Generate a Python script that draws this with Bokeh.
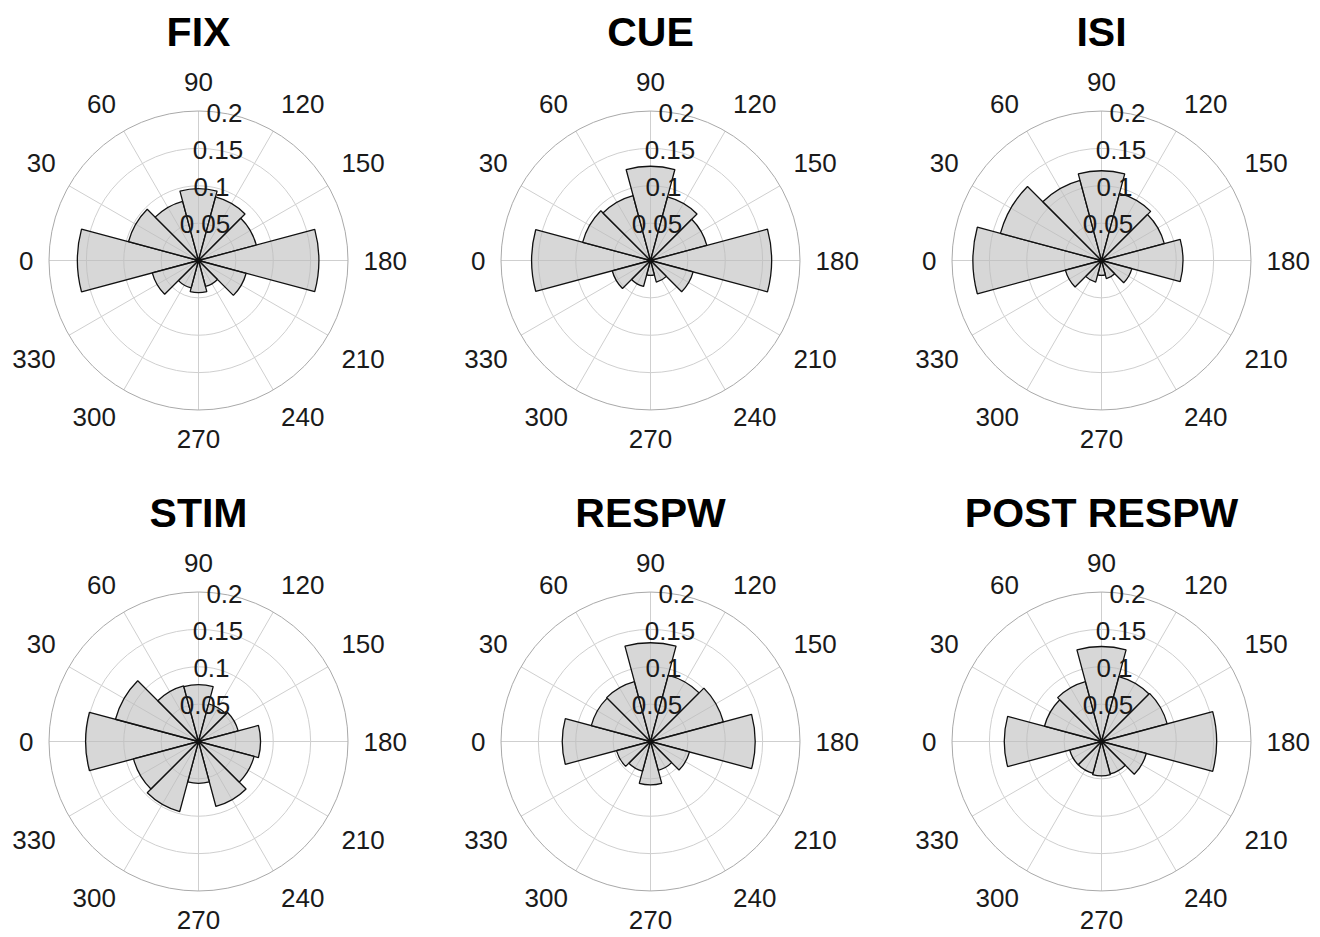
import numpy as np
from bokeh.plotting import figure
from bokeh.layouts import row, column
from bokeh.models import Range1d, ColumnDataSource
from bokeh.core.properties import value
from bokeh.embed import file_html
from bokeh.resources import INLINE

# ---- data (fraction of trials per 30-degree phase bin) ----
bin_centers = [0, 30, 60, 90, 120, 150, 180, 210, 240, 270, 300, 330]
bin_width = 30

titles = ["FIX", "CUE", "ISI", "STIM", "RESPW", "POST RESPW"]
fix_vals   = [0.162, 0.097, 0.082, 0.096, 0.088, 0.080, 0.161, 0.066, 0.036, 0.043, 0.038, 0.064]
cue_vals   = [0.159, 0.094, 0.090, 0.126, 0.088, 0.078, 0.162, 0.059, 0.030, 0.020, 0.036, 0.053]
isi_vals   = [0.172, 0.140, 0.111, 0.120, 0.093, 0.087, 0.109, 0.042, 0.025, 0.020, 0.030, 0.050]
stim_vals  = [0.151, 0.115, 0.077, 0.076, 0.052, 0.055, 0.083, 0.077, 0.090, 0.056, 0.097, 0.090]
respw_vals = [0.118, 0.082, 0.083, 0.132, 0.092, 0.101, 0.140, 0.054, 0.040, 0.058, 0.041, 0.047]
post_vals  = [0.130, 0.079, 0.083, 0.127, 0.090, 0.091, 0.154, 0.062, 0.045, 0.046, 0.044, 0.044]
panel_vals = [fix_vals, cue_vals, isi_vals, stim_vals, respw_vals, post_vals]

r_ticks = [0.05, 0.1, 0.15, 0.2]
r_tick_labels = ["0.05", "0.1", "0.15", "0.2"]
theta_ticks = [0, 30, 60, 90, 120, 150, 180, 210, 240, 270, 300, 330]
r_max = 0.2

# ---- layout / style ----
PX_PER_UNIT = 747.5
col_widths = [438, 451, 431]
col_cx = [198, 212, 212]          # centre of polar axes inside each figure (px from left)
row_heights = [488, 449]
row_cy = [260, 253]               # centre of polar axes inside each figure (px from top)
FONT = "Liberation Sans"
GRID_COLOR = "#cfcfcf"
OUTER_COLOR = "#a9a9a9"
FACE_COLOR = "#bdbdbd"
LABEL_RX = 165 / PX_PER_UNIT      # horizontal gap of angle labels
LABEL_RY = 161 / PX_PER_UNIT      # vertical gap of angle labels
LABEL_HH = 17.5 / PX_PER_UNIT     # extra vertical offset


def disp_angle(theta_deg):
    # 0 at left, 90 at top, 180 at right (clockwise)
    return np.deg2rad(180.0 - np.asarray(theta_deg, dtype=float))


def make_panel(title, vals, w, h, cx, cy):
    s = PX_PER_UNIT
    p = figure(width=w, height=h, title=None,
               x_range=Range1d(-cx / s, (w - cx) / s),
               y_range=Range1d(-(h - cy) / s, cy / s),
               output_backend="svg", toolbar_location=None,
               min_border=0, x_axis_location=None, y_axis_location=None)
    p.grid.visible = False
    p.outline_line_color = None
    p.background_fill_color = "white"
    p.border_fill_color = "white"

    # grid rings and spokes
    p.circle(x=[0] * 3, y=[0] * 3, radius=r_ticks[:-1], fill_color=None,
             line_color=GRID_COLOR, line_width=1)
    p.ray(x=[0] * len(theta_ticks), y=[0] * len(theta_ticks), length=r_max,
          length_units="data", angle=disp_angle(theta_ticks),
          line_color=GRID_COLOR, line_width=1)
    p.circle(x=[0], y=[0], radius=[r_max], fill_color=None,
             line_color=OUTER_COLOR, line_width=1)

    # histogram wedges
    centers = disp_angle(bin_centers)
    half = np.deg2rad(bin_width / 2.0)
    src = ColumnDataSource(dict(x=[0] * len(vals), y=[0] * len(vals), r=vals,
                                start=centers - half, end=centers + half))
    p.wedge(x="x", y="y", radius="r", start_angle="start", end_angle="end",
            source=src, fill_color=FACE_COLOR, fill_alpha=0.6,
            line_color="#111111", line_width=1.3)

    # angular tick labels
    phi = disp_angle(theta_ticks)
    c, sn = np.cos(phi), np.sin(phi)
    aligns = ["left" if ci > 0.1 else ("right" if ci < -0.1 else "center") for ci in c]
    vsign = np.where(sn > 0.1, 1.0, np.where(sn < -0.1, -1.0, 0.0))
    lx = LABEL_RX * c
    ly = LABEL_RY * sn + vsign * LABEL_HH
    lsrc = ColumnDataSource(dict(x=lx, y=ly, t=[str(t) for t in theta_ticks], a=aligns))
    p.text(x="x", y="y", text="t", text_align="a", text_baseline="middle", source=lsrc,
           text_font=value(FONT), text_font_size="26px", text_color="#1a1a1a")

    # radial tick labels along the 80-degree line
    ra = np.deg2rad(80.0)
    rr = np.asarray(r_ticks)
    p.text(x=rr * np.cos(ra), y=rr * np.sin(ra), text=r_tick_labels,
           text_align="center", text_baseline="middle",
           text_font=value(FONT), text_font_size="26px", text_color="#1a1a1a")

    # panel title
    p.text(x=[0], y=[229 / s], text=[title], text_align="center",
           text_baseline="middle", text_font=value(FONT),
           text_font_size="41px", text_font_style="bold", text_color="#000000")
    return p


rows = []
for ri in range(2):
    figs = []
    for ci in range(3):
        k = ri * 3 + ci
        figs.append(make_panel(titles[k], panel_vals[k], col_widths[ci],
                               row_heights[ri], col_cx[ci], row_cy[ri]))
    rows.append(row(*figs))
layout = column(*rows)

open("out.html", "w").write(file_html(layout, INLINE))
